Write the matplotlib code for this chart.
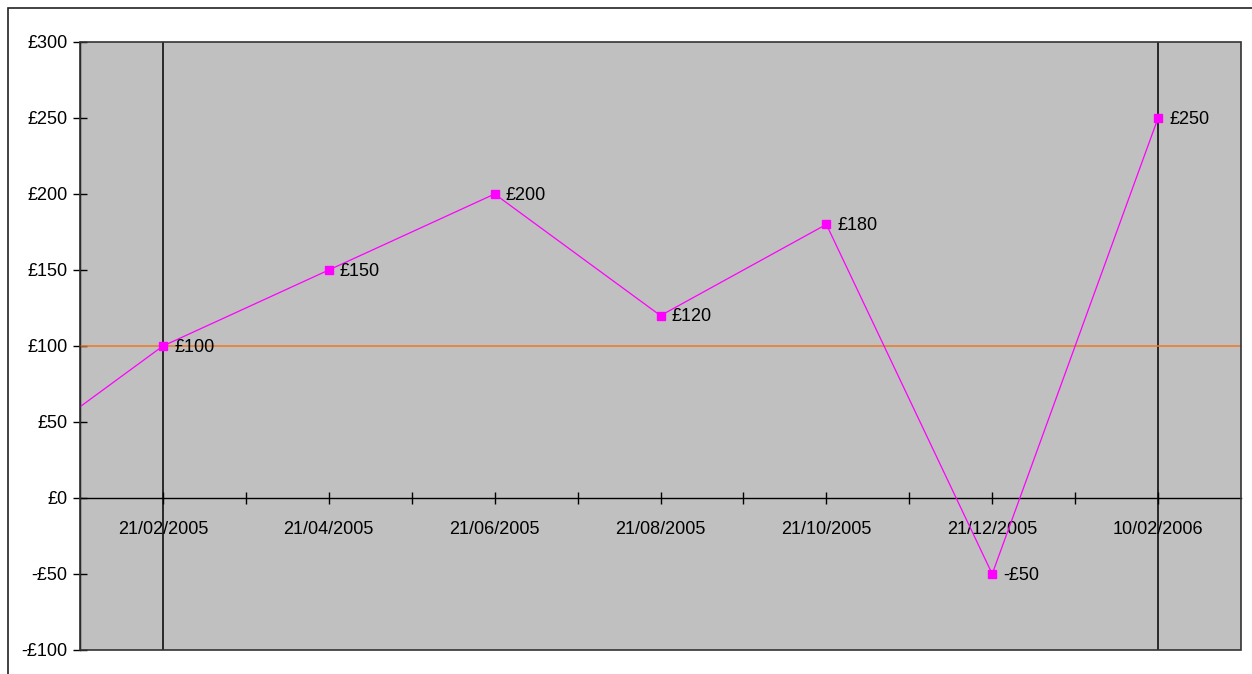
import matplotlib
matplotlib.use("Agg")
import matplotlib.pyplot as plt
from matplotlib.patches import Rectangle
from matplotlib.ticker import FixedLocator

plt.rcParams['font.family'] = ['Liberation Sans', 'DejaVu Sans']

categories = ["21/02/2005", "21/04/2005", "21/06/2005", "21/08/2005",
              "21/10/2005", "21/12/2005", "10/02/2006"]
values = [100, 150, 200, 120, 180, -50, 250]
value_labels = ["£100", "£150", "£200", "£120", "£180", "-£50", "£250"]
# earlier point just off the left edge of the plot (line is clipped)
prev_value = 20
target = 100
yticks = [-100, -50, 0, 50, 100, 150, 200, 250, 300]
ytick_labels = ["-£100", "-£50", "£0", "£50", "£100", "£150", "£200", "£250", "£300"]

FS = 13

W, H = 1252, 674
fig = plt.figure(figsize=(W / 100, H / 100), dpi=100)
fig.patch.set_facecolor("white")

# chart-area border
fig.patches.append(Rectangle((8 / W, -0.05), 1.2, 1 - 8 / H + 0.05, transform=fig.transFigure,
                             fill=False, edgecolor="#222222", linewidth=1.2))

ax = fig.add_axes([80 / W, 1 - 650 / H, (1241 - 80) / W, (650 - 42) / H])
ax.set_facecolor("#C0C0C0")

n = len(categories)
xs = list(range(-1, n))
ys = [prev_value] + values
ax.plot(xs, ys, color="#FF00FF", linewidth=0.9, zorder=4)
ax.plot(list(range(n)), values, linestyle="none", marker="s", markersize=6,
        color="#FF00FF", zorder=5)

ax.axhline(target, color="#EE7722", linewidth=1.1, zorder=3)
ax.axvline(0, color="black", linewidth=1.1, zorder=2)
ax.axvline(n - 1, color="black", linewidth=1.1, zorder=2)

for i, (v, lab) in enumerate(zip(values, value_labels)):
    ax.annotate(lab, (i, v), xytext=(8, -1), textcoords="offset points",
                ha="left", va="center", fontsize=FS, color="black", zorder=6)

ax.set_xlim(-0.5, n - 0.5)
ax.set_ylim(-100, 300)

for s in ["top", "right"]:
    ax.spines[s].set_visible(False)
ax.spines["bottom"].set_position(("data", 0))
ax.spines["bottom"].set_color("black")
ax.spines["bottom"].set_linewidth(1.0)
ax.spines["left"].set_color("black")
ax.spines["left"].set_linewidth(1.0)
ax.add_patch(Rectangle((0, 0), 1, 1, transform=ax.transAxes, fill=False,
                       edgecolor="#333333", linewidth=1.2, zorder=7, clip_on=False))

ax.set_xticks(list(range(n)))
ax.set_xticklabels(categories, fontsize=FS)
ax.xaxis.set_minor_locator(FixedLocator([i + 0.5 for i in range(n - 1)]))
ax.tick_params(axis="x", which="both", direction="inout", length=9, width=1,
               color="black", pad=12)
ax.tick_params(axis="x", which="minor", labelbottom=False)

ax.set_yticks(yticks)
ax.set_yticklabels(ytick_labels, fontsize=FS)
ax.tick_params(axis="y", direction="inout", length=10, width=1, color="black", pad=4)

fig.savefig("out.png", dpi=100)
